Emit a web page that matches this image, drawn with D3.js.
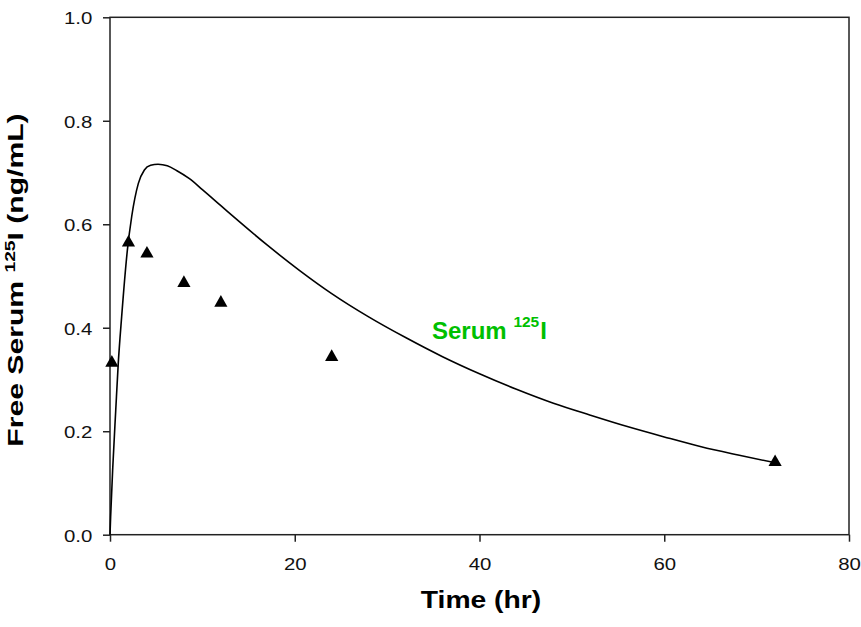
<!DOCTYPE html>
<html>
<head>
<meta charset="utf-8">
<script src="https://cdn.jsdelivr.net/npm/d3@7"></script>
<style>
  html, body { margin: 0; padding: 0; background: #fff; }
  svg text { font-family: "Liberation Sans", Arial, sans-serif; }
</style>
</head>
<body>
<div id="chart"></div>
<script>
/* observed serum values (triangles) */
const obsTime = [0.2, 2, 4, 8, 12, 24, 72];
const obsConc = [0.336, 0.568, 0.547, 0.490, 0.452, 0.347, 0.144];

/* fitted curve */
const fitTime = [0, 0.07, 0.3, 0.62, 0.9, 1.26, 1.88, 2.35, 3.07, 3.72, 4.4, 5.2, 6.2, 7.2, 8.6, 10, 12, 14,
                 17, 20.5, 24, 28, 32, 36, 40, 44, 48, 52, 56, 60, 64, 68, 72];
const fitConc = [0, 0.035, 0.13, 0.24, 0.333, 0.421, 0.55, 0.615, 0.679, 0.705, 0.714, 0.716, 0.713, 0.704, 0.688, 0.667, 0.636, 0.605,
                 0.560, 0.511, 0.466, 0.421, 0.381, 0.344, 0.311, 0.281, 0.254, 0.231, 0.209, 0.189, 0.170, 0.154, 0.139];

const xTicks = [0, 20, 40, 60, 80];
const yTicks = [0, 0.2, 0.4, 0.6, 0.8, 1.0];

const W = 861, H = 627;
const SX = 1.2;    // the original figure is stretched sideways

const x = d3.scaleLinear().domain([0, 80]).range([110, 849]);
const y = d3.scaleLinear().domain([0, 1]).range([534.7, 17.3]);

const svg = d3.select("#chart").append("svg")
  .attr("width", W).attr("height", H)
  .style("display", "block");

svg.append("rect").attr("width", W).attr("height", H).attr("fill", "#fff");

// frame
svg.append("rect")
  .attr("x", x(0)).attr("y", y(1))
  .attr("width", x(80) - x(0)).attr("height", y(0) - y(1))
  .attr("fill", "none").attr("stroke", "#222").attr("stroke-width", 1.5);

// axes
const gx = svg.append("g").attr("transform", `translate(0,${y(0)})`)
  .call(d3.axisBottom(x).tickValues(xTicks).tickSize(7).tickFormat(d3.format("d")));
const gy = svg.append("g").attr("transform", `translate(${x(0)},0)`)
  .call(d3.axisLeft(y).tickValues(yTicks).tickSize(7).tickFormat(d3.format(".1f")));

[gx, gy].forEach(g => {
  g.select(".domain").remove();
  g.selectAll(".tick line").attr("stroke", "#222").attr("stroke-width", 1.5);
  g.selectAll(".tick text")
    .attr("fill", "#111").attr("font-size", "17px")
    .attr("font-family", "'Liberation Sans', Arial, sans-serif")
    .attr("transform", `scale(${SX},1)`);
});
gx.selectAll(".tick text").attr("y", 35).attr("dy", 0);
gy.selectAll(".tick text").attr("x", -17.7 / SX).attr("dy", "0.38em");

// fitted curve
const fit = fitTime.map((t, i) => ({ t, v: fitConc[i] }));
svg.append("path").datum(fit)
  .attr("fill", "none").attr("stroke", "#000").attr("stroke-width", 1.6)
  .attr("d", d3.line().x(d => x(d.t)).y(d => y(d.v)).curve(d3.curveMonotoneX));

// observed triangles
const obs = obsTime.map((t, i) => ({ t, v: obsConc[i] }));
svg.selectAll(".tri").data(obs).join("path")
  .attr("class", "tri")
  .attr("transform", d => `translate(${x(d.t)},${y(d.v)})`)
  .attr("d", "M0,-5.8L6.6,5.8L-6.6,5.8Z")
  .attr("fill", "#000");

// series label
const lab = svg.append("text")
  .attr("x", 432).attr("y", 339)
  .attr("fill", "#00c000").attr("font-size", "24px").attr("font-weight", "bold");
lab.append("tspan").text("Serum ");
lab.append("tspan").attr("font-size", "15.5px").attr("dy", "-11.7").text("125");
lab.append("tspan").attr("dy", "11.7").attr("dx", "1").text("I");

// x title
svg.append("text")
  .attr("transform", `translate(481,608) scale(${SX + 0.03},1)`)
  .attr("text-anchor", "middle")
  .attr("font-size", "23px").attr("font-weight", "bold").attr("fill", "#000")
  .text("Time (hr)");

// y title (stretched along its length in the original)
const yt = svg.append("text")
  .attr("transform", "translate(22.5,280) rotate(-90) scale(1.37,1)")
  .attr("text-anchor", "middle")
  .attr("font-size", "22px").attr("font-weight", "bold").attr("fill", "#000");
yt.append("tspan").text("Free Serum ");
yt.append("tspan").attr("font-size", "14px").attr("dy", "-7.5").text("125");
yt.append("tspan").attr("dy", "7.5").text("I (ng/mL)");
</script>
</body>
</html>
